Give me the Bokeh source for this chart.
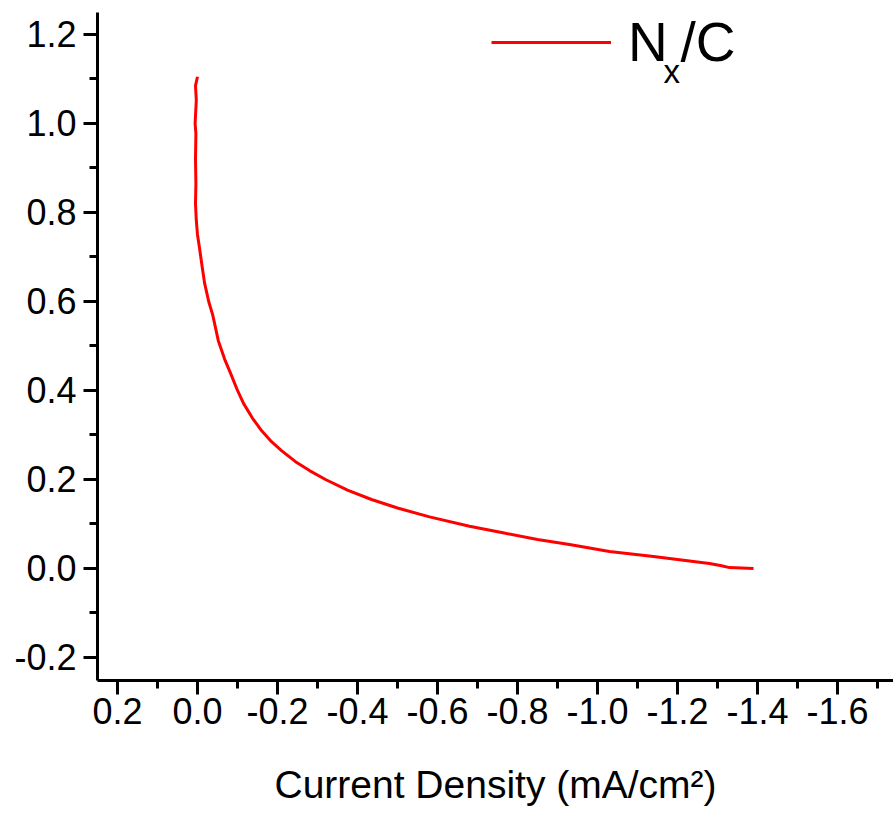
from bokeh.plotting import figure
from bokeh.models import (Range1d, FixedTicker, CustomJSTickFormatter, Legend, LegendItem, Label)
from bokeh.embed import file_html
from bokeh.resources import INLINE

# Data (current density in mA/cm2, potential in V)
current_density = [0.000, 0.005, 0.003, 0.006, 0.004, 0.005, 0.004, 0.005, 0.003, 0.000,
                   -0.005, -0.012, -0.018, -0.028, -0.038, -0.052, -0.068, -0.083, -0.100,
                   -0.115, -0.138, -0.160, -0.185, -0.210, -0.245, -0.280, -0.320, -0.375,
                   -0.435, -0.500, -0.580, -0.680, -0.770, -0.850, -0.930, -1.030, -1.140,
                   -1.280, -1.310, -1.330, -1.390]
potential = [1.105, 1.085, 1.052, 1.000, 0.977, 0.920, 0.865, 0.820, 0.782, 0.750,
             0.720, 0.676, 0.640, 0.600, 0.570, 0.512, 0.470, 0.438, 0.400,
             0.371, 0.337, 0.310, 0.285, 0.265, 0.240, 0.220, 0.200, 0.176,
             0.155, 0.136, 0.116, 0.095, 0.079, 0.065, 0.054, 0.038, 0.027,
             0.011, 0.006, 0.002, 0.000]
series_name = "N"
x_major = [0.2, 0.0, -0.2, -0.4, -0.6, -0.8, -1.0, -1.2, -1.4, -1.6]
x_minor = [0.1, -0.1, -0.3, -0.5, -0.7, -0.9, -1.1, -1.3, -1.5, -1.7]
y_major = [-0.2, 0.0, 0.2, 0.4, 0.6, 0.8, 1.0, 1.2]
y_minor = [-0.1, 0.1, 0.3, 0.5, 0.7, 0.9, 1.1]

FONT = "Liberation Sans"

p = figure(width=893, height=813, output_backend="svg", toolbar_location=None,
           x_range=Range1d(0.25, -1.74), y_range=Range1d(-0.2517, 1.2494),
           min_border_left=97, min_border_top=12, min_border_right=0, min_border_bottom=133,
           x_axis_label="Current Density (mA/cm²)")
p.outline_line_color = None
p.grid.visible = False
p.background_fill_color = "white"

r = p.line(current_density, potential, line_color="#ff0000", line_width=3)

for ax, major, minor in ((p.xaxis[0], x_major, x_minor), (p.yaxis[0], y_major, y_minor)):
    ax.ticker = FixedTicker(ticks=major, minor_ticks=minor)
    ax.formatter = CustomJSTickFormatter(code="return tick.toFixed(1);")
    ax.axis_line_width = 3
    ax.axis_line_color = "black"
    ax.major_tick_line_width = 3
    ax.minor_tick_line_width = 3
    ax.major_tick_in = 0
    ax.minor_tick_in = 0
    ax.major_tick_out = 14
    ax.minor_tick_out = 8
    ax.major_label_text_font = FONT
    ax.major_label_text_font_size = "36px"
    ax.major_label_text_color = "black"

p.xaxis.major_label_standoff = 3
p.yaxis.major_label_standoff = 7
p.xaxis.axis_label_text_font = FONT
p.xaxis.axis_label_text_font_size = "39px"
p.xaxis.axis_label_text_font_style = "normal"
p.xaxis.axis_label_text_color = "black"
p.xaxis.axis_label_standoff = 36

legend = Legend(items=[LegendItem(label=series_name, renderers=[r])],
                location=(394, 605), glyph_width=120, glyph_height=66,
                label_text_font=FONT, label_text_font_size="55px", label_text_color="black",
                label_height=66, label_standoff=17, padding=0, margin=0, spacing=0,
                border_line_alpha=0, background_fill_alpha=0)
p.add_layout(legend)

p.add_layout(Label(x=-1.165, y=1.117, text="x", text_font=FONT, text_font_size="33px",
                   text_color="black", text_baseline="alphabetic"))
p.add_layout(Label(x=-1.2075, y=1.183, text="/C", text_font=FONT, text_font_size="55px",
                   text_color="black", text_baseline="alphabetic"))

open("out.html", "w").write(file_html(p, INLINE))
